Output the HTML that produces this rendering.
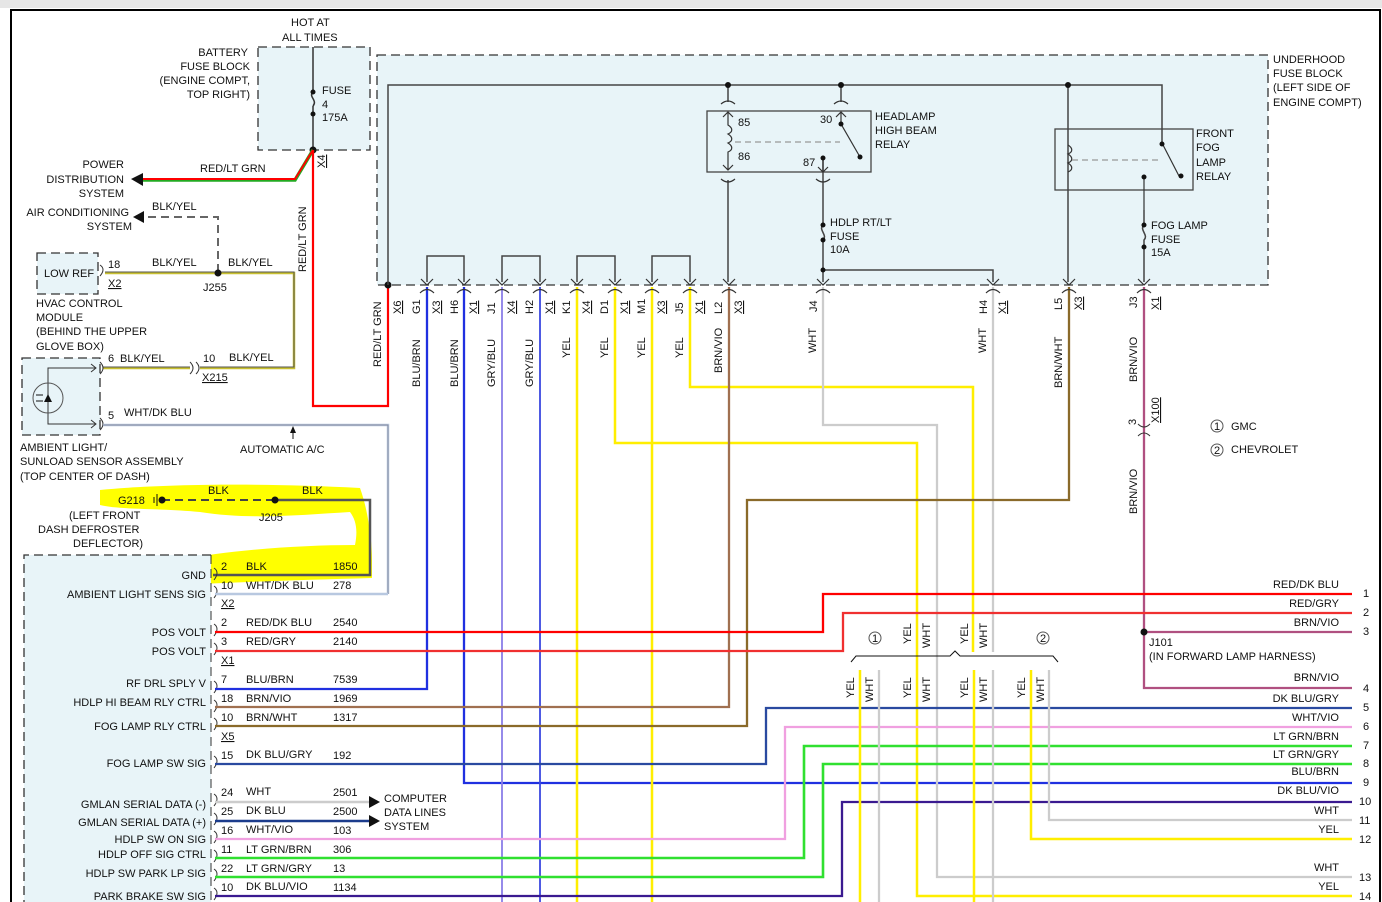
<!DOCTYPE html>
<html><head><meta charset="utf-8"><style>
html,body{margin:0;padding:0;background:#fff;}
svg{display:block;}
text{font-family:"Liberation Sans",Arial,sans-serif;font-size:11px;fill:#111;}
.u{text-decoration:underline;}
</style></head><body>
<svg width="1382" height="902" viewBox="0 0 1382 902" xmlns="http://www.w3.org/2000/svg">
<rect x="0" y="0" width="1382" height="8" fill="#e6e6e6"/>
<path d="M11,902 V10 H1380 V902" fill="none" stroke="#000" stroke-width="2"/>

<!-- highlight -->
<path d="M100,490 C150,485 250,482 360,488 C368,510 372,540 372,560 L372,578 C300,580 240,582 180,585 L180,560 C230,550 300,545 355,545 C358,530 356,520 350,512 C300,515 250,520 200,512 C160,508 120,510 100,505 Z" fill="#ffff00"/>

<!-- fuse blocks -->
<rect x="377" y="55" width="891" height="230" fill="#e8f4f8" stroke="#333" stroke-dasharray="9,5" stroke-width="1.3"/>
<rect x="258" y="47" width="112" height="103" fill="#e8f4f8" stroke="#333" stroke-dasharray="9,5" stroke-width="1.3"/>
<rect x="37" y="253" width="61" height="41" fill="#e8f4f8" stroke="#333" stroke-dasharray="9,5" stroke-width="1.3"/>
<rect x="22" y="358" width="78" height="77" fill="#e8f4f8" stroke="#333" stroke-dasharray="9,5" stroke-width="1.3"/>
<path d="M211,555 H24 V902" fill="#e8f4f8" stroke="#333" stroke-dasharray="9,5" stroke-width="1.3"/>
<rect x="25" y="556" width="186" height="346" fill="#e8f4f8"/>
<line x1="211" y1="555" x2="211" y2="902" stroke="#333" stroke-dasharray="9,5"/>

<!-- battery fuse -->
<g stroke="#333" stroke-width="1.5" fill="none">
<line x1="313" y1="47" x2="313" y2="92"/>
<path d="M313,92 C308,97 318,100 313,106"/>
<line x1="313" y1="106" x2="313" y2="150"/>
</g>
<circle cx="313" cy="92" r="2.5" fill="#111"/><circle cx="313" cy="114" r="2.5" fill="#111"/>
<circle cx="313" cy="150" r="3.5" fill="#111"/>
<text x="291" y="26">HOT AT</text><text x="282" y="41">ALL TIMES</text>
<text x="248" y="56" text-anchor="end">BATTERY</text>
<text x="250" y="70" text-anchor="end">FUSE BLOCK</text>
<text x="250" y="84" text-anchor="end">(ENGINE COMPT,</text>
<text x="250" y="98" text-anchor="end">TOP RIGHT)</text>
<text x="322" y="94">FUSE</text><text x="322" y="108">4</text><text x="322" y="121">175A</text>
<text class="u" transform="translate(325,168) rotate(-90)">X4</text>

<!-- red/lt grn wires -->
<path d="M313,150 L295,180 H140" fill="none" stroke="#2a2" stroke-width="3.5"/>
<path d="M313,150 L295,179 H140" fill="none" stroke="#f00" stroke-width="2"/>
<polygon points="131,179 143,173 143,186" fill="#111"/>
<text x="200" y="172">RED/LT GRN</text>
<text x="124" y="168" text-anchor="end">POWER</text>
<text x="124" y="183" text-anchor="end">DISTRIBUTION</text>
<text x="124" y="197" text-anchor="end">SYSTEM</text>
<path d="M313,150 V406 H388 V285" fill="none" stroke="#f00" stroke-width="2.2"/>
<text transform="translate(306,272) rotate(-90)">RED/LT GRN</text>
<circle cx="388" cy="285" r="3.5" fill="#111"/>

<!-- AC / HVAC -->
<path d="M148,217 H218 V270" fill="none" stroke="#666" stroke-width="2" stroke-dasharray="8,5"/>
<polygon points="133,217 144,211 144,223" fill="#111"/>
<text x="129" y="216" text-anchor="end">AIR CONDITIONING</text>
<text x="132" y="230" text-anchor="end">SYSTEM</text>
<text x="152" y="210">BLK/YEL</text>
<path d="M105,273 H294 V368 H200" fill="none" stroke="#c8c030" stroke-width="2.5"/>
<path d="M105,272 H294 V367 H200" fill="none" stroke="#555" stroke-width="1"/>
<circle cx="218" cy="273" r="3.5" fill="#111"/>
<text x="44" y="277">LOW REF</text>
<path d="M100,265 Q106,269 100,276" fill="none" stroke="#333"/>
<text x="108" y="268">18</text><text class="u" x="108" y="287">X2</text>
<text x="152" y="266">BLK/YEL</text><text x="228" y="266">BLK/YEL</text>
<text x="203" y="291">J255</text>
<text x="36" y="307">HVAC CONTROL</text><text x="36" y="321">MODULE</text>
<text x="36" y="335">(BEHIND THE UPPER</text><text x="36" y="350">GLOVE BOX)</text>
<path d="M103,368 H190" stroke="#c8c030" stroke-width="2.5"/>
<path d="M103,367 H190" stroke="#555" stroke-width="1"/>
<path d="M190,362 Q196,368 190,374 M196,362 Q202,368 196,374 M100,362 Q106,368 100,374 M100,418 Q106,424 100,430" fill="none" stroke="#333"/>
<text x="108" y="362">6</text><text x="120" y="362">BLK/YEL</text>
<text x="203" y="362">10</text><text x="229" y="361">BLK/YEL</text>
<text class="u" x="202" y="381">X215</text>
<!-- sensor -->
<path d="M96,368 H48 V424 H96" fill="none" stroke="#333"/>
<path d="M91,364 L96,368 L91,372 M91,420 L96,424 L91,428" fill="none" stroke="#333"/>
<circle cx="48" cy="398" r="15" fill="none" stroke="#555"/>
<polygon points="44,402 52,402 48,394" fill="#111"/>
<path d="M36,395 H43 M36,401 H43" stroke="#111"/>
<path d="M103,425 H388 V594" fill="none" stroke="#b8c8e0" stroke-width="2.5"/>
<path d="M103,425 H388 V594" fill="none" stroke="#778" stroke-width="0.7"/>
<text x="108" y="419">5</text><text x="124" y="416">WHT/DK BLU</text>
<text x="20" y="451">AMBIENT LIGHT/</text>
<text x="20" y="465">SUNLOAD SENSOR ASSEMBLY</text>
<text x="20" y="480">(TOP CENTER OF DASH)</text>
<line x1="293" y1="439" x2="293" y2="428" stroke="#111"/><polygon points="293,426 290,433 296,433" fill="#111"/>
<text x="240" y="453">AUTOMATIC A/C</text>

<!-- G218 ground -->
<path d="M162,500 H275" stroke="#444" stroke-width="2" stroke-dasharray="8,5"/>
<path d="M275,500 H370 V575 H213" fill="none" stroke="#555" stroke-width="2.5"/>
<circle cx="162" cy="500" r="3.5" fill="#111"/><circle cx="275" cy="500" r="3.5" fill="#111"/>
<path d="M154,497 V503 M157,494 V506" stroke="#111"/>
<text x="118" y="504">G218</text><text x="208" y="494">BLK</text><text x="302" y="494">BLK</text>
<text x="259" y="521">J205</text>
<text x="69" y="519">(LEFT FRONT</text><text x="38" y="533">DASH DEFROSTER</text><text x="73" y="547">DEFLECTOR)</text>

<!-- module pins -->
<g fill="none" stroke="#333">
<path d="M214,568 Q220,572 214,580 M214,586 Q220,590 214,598 M214,624 Q220,628 214,636 M214,643 Q220,647 214,655 M214,681 Q220,685 214,693 M214,700 Q220,704 214,712 M214,718 Q220,722 214,730 M214,756 Q220,760 214,768 M214,794 Q220,798 214,806 M214,813 Q220,817 214,825 M214,831 Q220,835 214,843 M214,850 Q220,854 214,862 M214,869 Q220,873 214,881 M214,888 Q220,892 214,900"/>
</g>
<text x="206" y="579" text-anchor="end">GND</text>
<text x="206" y="598" text-anchor="end">AMBIENT LIGHT SENS SIG</text>
<text x="206" y="636" text-anchor="end">POS VOLT</text>
<text x="206" y="655" text-anchor="end">POS VOLT</text>
<text x="206" y="687" text-anchor="end">RF DRL SPLY V</text>
<text x="206" y="706" text-anchor="end">HDLP HI BEAM RLY CTRL</text>
<text x="206" y="730" text-anchor="end">FOG LAMP RLY CTRL</text>
<text x="206" y="767" text-anchor="end">FOG LAMP SW SIG</text>
<text x="206" y="808" text-anchor="end">GMLAN SERIAL DATA (-)</text>
<text x="206" y="826" text-anchor="end">GMLAN SERIAL DATA (+)</text>
<text x="206" y="843" text-anchor="end">HDLP SW ON SIG</text>
<text x="206" y="858" text-anchor="end">HDLP OFF SIG CTRL</text>
<text x="206" y="877" text-anchor="end">HDLP SW PARK LP SIG</text>
<text x="206" y="900" text-anchor="end">PARK BRAKE SW SIG</text>
<g>
<text x="221" y="570">2</text><text x="246" y="570">BLK</text><text x="333" y="570">1850</text>
<text x="221" y="589">10</text><text x="246" y="589">WHT/DK BLU</text><text x="333" y="589">278</text>
<text class="u" x="221" y="607">X2</text>
<text x="221" y="626">2</text><text x="246" y="626">RED/DK BLU</text><text x="333" y="626">2540</text>
<text x="221" y="645">3</text><text x="246" y="645">RED/GRY</text><text x="333" y="645">2140</text>
<text class="u" x="221" y="664">X1</text>
<text x="221" y="683">7</text><text x="246" y="683">BLU/BRN</text><text x="333" y="683">7539</text>
<text x="221" y="702">18</text><text x="246" y="702">BRN/VIO</text><text x="333" y="702">1969</text>
<text x="221" y="721">10</text><text x="246" y="721">BRN/WHT</text><text x="333" y="721">1317</text>
<text class="u" x="221" y="740">X5</text>
<text x="221" y="759">15</text><text x="246" y="758">DK BLU/GRY</text><text x="333" y="759">192</text>
<text x="221" y="796">24</text><text x="246" y="795">WHT</text><text x="333" y="796">2501</text>
<text x="221" y="815">25</text><text x="246" y="814">DK BLU</text><text x="333" y="815">2500</text>
<text x="221" y="834">16</text><text x="246" y="833">WHT/VIO</text><text x="333" y="834">103</text>
<text x="221" y="853">11</text><text x="246" y="853">LT GRN/BRN</text><text x="333" y="853">306</text>
<text x="221" y="872">22</text><text x="246" y="872">LT GRN/GRY</text><text x="333" y="872">13</text>
<text x="221" y="891">10</text><text x="246" y="890">DK BLU/VIO</text><text x="333" y="891">1134</text>
</g>
<line x1="215" y1="594" x2="388" y2="594" stroke="#b8c8e0" stroke-width="2.5"/>
<!-- data lines -->
<line x1="215" y1="802" x2="372" y2="802" stroke="#ccc" stroke-width="2.5"/>
<line x1="215" y1="821" x2="372" y2="821" stroke="#1c3c8c" stroke-width="2.5"/>
<polygon points="380,802 369,796 369,808" fill="#111"/><polygon points="380,821 369,815 369,827" fill="#111"/>
<text x="384" y="802">COMPUTER</text><text x="384" y="816">DATA LINES</text><text x="384" y="830">SYSTEM</text>

<!-- vertical wires from fuse block -->
<g fill="none" stroke-width="2.3">
<path d="M427,287 V689 H215" stroke="#2030e0"/>
<path d="M464,287 V783 H1352" stroke="#2030e0"/>
<path d="M502,287 V902" stroke="#8a7ee8" stroke-width="1.8"/>
<path d="M540,287 V902" stroke="#3a48e0" stroke-width="1.8"/>
<path d="M577,287 V902" stroke="#ffee00" stroke-width="2.5"/>
<path d="M615,287 V443 H917 V896 H1352" stroke="#ffee00" stroke-width="2.5"/>
<path d="M652,287 V902" stroke="#ffee00" stroke-width="2.5"/>
<path d="M690,287 V387 H973 V652" stroke="#ffee00" stroke-width="2.5"/>
<path d="M729,287 V707 H215" stroke="#a07050"/>
<path d="M823,287 V425 H937 V877 H1352" stroke="#ccc"/>
<path d="M993,287 V652" stroke="#ccc"/>
<path d="M1069,287 V500 H747 V726 H215" stroke="#8a6a2a"/>
<path d="M1144,287 V632 H1352 M1144,632 V688 H1352" stroke="#b05080"/>
<path d="M215,632 H823 V594 H1352" stroke="#f00"/>
<path d="M215,651 H843 V613 H1352" stroke="#f03030"/>
<path d="M215,764 H766 V708 H1352" stroke="#2a4aa0"/>
<path d="M215,839 H785 V727 H1352" stroke="#f0a0e0"/>
<path d="M215,858 H804 V746 H1352" stroke="#30e030" stroke-width="2.6"/>
<path d="M215,877 H823 V764 H1352" stroke="#30e030" stroke-width="2.6"/>
<path d="M215,896 H842 V802 H1352" stroke="#3a1a90"/>
<path d="M860,670 V902" stroke="#ffee00" stroke-width="2.5"/>
<path d="M879,670 V902" stroke="#ccc"/>
<path d="M974,670 V902" stroke="#ffee00" stroke-width="2.5"/>
<path d="M993,670 V902" stroke="#ccc"/>
<path d="M1031,670 V839 H1352" stroke="#ffee00" stroke-width="2.5"/>
<path d="M1049,670 V820 H1352" stroke="#ccc"/>
</g>
<!-- brace -->
<path d="M851,662 L856,656 H950 L955,651 L960,656 H1053 L1058,662" fill="none" stroke="#111"/>
<circle cx="875" cy="638" r="6" fill="none" stroke="#555"/><text x="872" y="642" font-size="10">1</text>
<circle cx="1043" cy="638" r="6" fill="none" stroke="#555"/><text x="1040" y="642" font-size="10">2</text>
<g font-size="10">
<text transform="translate(911,644) rotate(-90)">YEL</text><text transform="translate(930,648) rotate(-90)">WHT</text>
<text transform="translate(968,644) rotate(-90)">YEL</text><text transform="translate(987,648) rotate(-90)">WHT</text>
<text transform="translate(854,698) rotate(-90)">YEL</text><text transform="translate(873,702) rotate(-90)">WHT</text>
<text transform="translate(911,698) rotate(-90)">YEL</text><text transform="translate(930,702) rotate(-90)">WHT</text>
<text transform="translate(968,698) rotate(-90)">YEL</text><text transform="translate(987,702) rotate(-90)">WHT</text>
<text transform="translate(1025,698) rotate(-90)">YEL</text><text transform="translate(1044,702) rotate(-90)">WHT</text>
</g>
<circle cx="1144" cy="632" r="3.5" fill="#111"/>
<text x="1149" y="646">J101</text><text x="1149" y="660">(IN FORWARD LAMP HARNESS)</text>
<!-- X100 -->
<path d="M1138,424 Q1144,430 1150,424 M1138,436 Q1144,430 1150,436" fill="none" stroke="#333"/>
<text transform="translate(1136,425) rotate(-90)">3</text>
<text class="u" transform="translate(1159,423) rotate(-90)">X100</text>
<text transform="translate(1137,514) rotate(-90)">BRN/VIO</text>
<circle cx="1217" cy="426" r="6" fill="none" stroke="#555"/><text x="1214" y="430" font-size="10">1</text>
<text x="1231" y="430">GMC</text>
<circle cx="1217" cy="450" r="6" fill="none" stroke="#555"/><text x="1214" y="454" font-size="10">2</text>
<text x="1231" y="453">CHEVROLET</text>

<!-- right labels -->
<g text-anchor="end">
<text x="1339" y="588">RED/DK BLU</text><text x="1339" y="607">RED/GRY</text><text x="1339" y="626">BRN/VIO</text>
<text x="1339" y="681">BRN/VIO</text><text x="1339" y="702">DK BLU/GRY</text><text x="1339" y="721">WHT/VIO</text>
<text x="1339" y="740">LT GRN/BRN</text><text x="1339" y="758">LT GRN/GRY</text><text x="1339" y="775">BLU/BRN</text>
<text x="1339" y="794">DK BLU/VIO</text><text x="1339" y="814">WHT</text><text x="1339" y="833">YEL</text>
<text x="1339" y="871">WHT</text><text x="1339" y="890">YEL</text>
</g>
<g>
<text x="1363" y="597">1</text><text x="1363" y="616">2</text><text x="1363" y="635">3</text><text x="1363" y="692">4</text>
<text x="1363" y="711">5</text><text x="1363" y="730">6</text><text x="1363" y="749">7</text><text x="1363" y="767">8</text>
<text x="1363" y="786">9</text><text x="1359" y="805">10</text><text x="1359" y="824">11</text><text x="1359" y="843">12</text>
<text x="1359" y="881">13</text><text x="1359" y="900">14</text>
</g>

<!-- inside underhood fuse block -->
<g fill="none" stroke="#444" stroke-width="1.5">
<path d="M388,285 V85 H1162 V143"/>
<path d="M427,282 V256 H464 V282 M502,282 V256 H540 V282 M577,282 V256 H615 V282 M652,282 V256 H690 V282"/>
<path d="M728,85 V102 M728,180 V282"/>
<path d="M841,85 V102"/>
<path d="M823,160 V225 M823,225 C818,230 828,235 823,240 M823,240 V282 M823,270 H993 V282"/>
<path d="M1068,85 V282"/>
<path d="M1144,210 V225 C1139,230 1149,235 1144,240 V282"/>
</g>
<g fill="none" stroke="#333" stroke-width="1.2">
<path d="M421,279 L427,285 L433,279 M458,279 L464,285 L470,279 M496,279 L502,285 L508,279 M534,279 L540,285 L546,279 M571,279 L577,285 L583,279 M609,279 L615,285 L621,279 M646,279 L652,285 L658,279 M684,279 L690,285 L696,279 M723,279 L729,285 L735,279 M817,279 L823,285 L829,279 M987,279 L993,285 L999,279 M1063,279 L1069,285 L1075,279 M1138,279 L1144,285 L1150,279"/>
<path d="M420,293 Q427,286 434,293 M457,293 Q464,286 471,293 M495,293 Q502,286 509,293 M533,293 Q540,286 547,293 M570,293 Q577,286 584,293 M608,293 Q615,286 622,293 M645,293 Q652,286 659,293 M683,293 Q690,286 697,293 M722,293 Q729,286 736,293 M816,293 Q823,286 830,293 M986,293 Q993,286 1000,293 M1062,293 Q1069,286 1076,293 M1137,293 Q1144,286 1151,293"/>
</g>
<circle cx="728" cy="85" r="3" fill="#111"/><circle cx="841" cy="85" r="3" fill="#111"/><circle cx="1068" cy="85" r="3" fill="#111"/>
<circle cx="823" cy="225" r="2.5" fill="#111"/><circle cx="823" cy="240" r="2.5" fill="#111"/><circle cx="823" cy="270" r="2.5" fill="#111"/>
<circle cx="1144" cy="225" r="2.5" fill="#111"/><circle cx="1144" cy="247" r="2.5" fill="#111"/>
<!-- headlamp relay -->
<rect x="707" y="111" width="164" height="61" fill="none" stroke="#444" stroke-width="1.3"/>
<g fill="none" stroke="#333" stroke-width="1.2">
<path d="M721,104 Q728,98 735,104 M834,104 Q841,98 848,104 M721,179 Q728,185 735,179 M816,179 Q823,185 830,179"/>
<path d="M728,112 V125 C733,128 733,132 728,134 C733,137 733,141 728,143 C733,146 733,150 728,152 V170 M723,117 L728,112 L733,117 M723,165 L728,170 L733,165"/>
<path d="M841,112 V124 L860,157 M836,117 L841,112 L846,117 M823,158 V172 M818,167 L823,172 L828,167"/>
<path d="M735,142 H840" stroke="#999" stroke-dasharray="6,4"/>
</g>
<circle cx="841" cy="124" r="2.5" fill="#111"/><circle cx="860" cy="157" r="2.5" fill="#111"/><circle cx="823" cy="158" r="2.5" fill="#111"/>
<text x="738" y="126">85</text><text x="820" y="123">30</text><text x="738" y="160">86</text><text x="803" y="166">87</text>
<text x="875" y="120">HEADLAMP</text><text x="875" y="134">HIGH BEAM</text><text x="875" y="148">RELAY</text>
<text x="830" y="226">HDLP RT/LT</text><text x="830" y="240">FUSE</text><text x="830" y="253">10A</text>
<!-- fog relay -->
<rect x="1055" y="129" width="138" height="61" fill="none" stroke="#444" stroke-width="1.3"/>
<g fill="none" stroke="#333" stroke-width="1.2">
<path d="M1068,145 C1073,148 1073,152 1068,154 C1073,157 1073,161 1068,163 C1073,166 1073,170 1068,172"/>
<path d="M1162,143 L1179,176 M1144,176 V210"/>
<path d="M1072,160 H1160" stroke="#999" stroke-dasharray="6,4"/>
</g>
<circle cx="1162" cy="144" r="2.5" fill="#111"/><circle cx="1181" cy="176" r="2.5" fill="#111"/><circle cx="1144" cy="177" r="2.5" fill="#111"/>
<text x="1196" y="137">FRONT</text><text x="1196" y="151">FOG</text><text x="1196" y="166">LAMP</text><text x="1196" y="180">RELAY</text>
<text x="1151" y="229">FOG LAMP</text><text x="1151" y="243">FUSE</text><text x="1151" y="256">15A</text>
<text x="1273" y="63">UNDERHOOD</text><text x="1273" y="77">FUSE BLOCK</text><text x="1273" y="91">(LEFT SIDE OF</text><text x="1273" y="106">ENGINE COMPT)</text>

<!-- connector labels -->
<g>
<text transform="translate(381,367) rotate(-90)">RED/LT GRN</text>
<text class="u" transform="translate(401,314) rotate(-90)">X6</text>
<text transform="translate(420,314) rotate(-90)">G1</text><text class="u" transform="translate(440,314) rotate(-90)">X3</text>
<text transform="translate(458,314) rotate(-90)">H6</text><text class="u" transform="translate(477,314) rotate(-90)">X1</text>
<text transform="translate(495,314) rotate(-90)">J1</text><text class="u" transform="translate(515,314) rotate(-90)">X4</text>
<text transform="translate(533,314) rotate(-90)">H2</text><text class="u" transform="translate(553,314) rotate(-90)">X1</text>
<text transform="translate(570,314) rotate(-90)">K1</text><text class="u" transform="translate(590,314) rotate(-90)">X4</text>
<text transform="translate(608,314) rotate(-90)">D1</text><text class="u" transform="translate(628,314) rotate(-90)">X1</text>
<text transform="translate(645,314) rotate(-90)">M1</text><text class="u" transform="translate(665,314) rotate(-90)">X3</text>
<text transform="translate(683,314) rotate(-90)">J5</text><text class="u" transform="translate(703,314) rotate(-90)">X1</text>
<text transform="translate(722,314) rotate(-90)">L2</text><text class="u" transform="translate(742,314) rotate(-90)">X3</text>
<text transform="translate(817,312) rotate(-90)">J4</text>
<text transform="translate(987,314) rotate(-90)">H4</text><text class="u" transform="translate(1006,314) rotate(-90)">X1</text>
<text transform="translate(1062,310) rotate(-90)">L5</text><text class="u" transform="translate(1082,310) rotate(-90)">X3</text>
<text transform="translate(1137,308) rotate(-90)">J3</text><text class="u" transform="translate(1159,310) rotate(-90)">X1</text>
<text transform="translate(420,387) rotate(-90)">BLU/BRN</text>
<text transform="translate(458,387) rotate(-90)">BLU/BRN</text>
<text transform="translate(495,387) rotate(-90)">GRY/BLU</text>
<text transform="translate(533,387) rotate(-90)">GRY/BLU</text>
<text transform="translate(570,358) rotate(-90)">YEL</text>
<text transform="translate(608,358) rotate(-90)">YEL</text>
<text transform="translate(645,358) rotate(-90)">YEL</text>
<text transform="translate(683,358) rotate(-90)">YEL</text>
<text transform="translate(722,373) rotate(-90)">BRN/VIO</text>
<text transform="translate(816,353) rotate(-90)">WHT</text>
<text transform="translate(986,353) rotate(-90)">WHT</text>
<text transform="translate(1062,388) rotate(-90)">BRN/WHT</text>
<text transform="translate(1137,382) rotate(-90)">BRN/VIO</text>
</g>
</svg>
</body></html>
